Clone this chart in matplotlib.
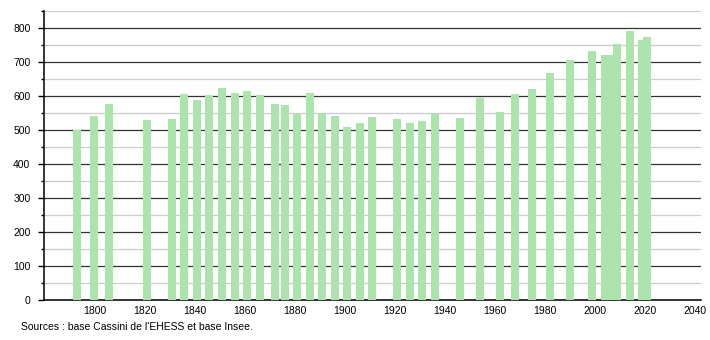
import numpy as np
import matplotlib.pyplot as plt
from matplotlib.ticker import MultipleLocator

# census years and population
years = [1793, 1800, 1806, 1821, 1831, 1836, 1841, 1846, 1851, 1856,
         1861, 1866, 1872, 1876, 1881, 1886, 1891, 1896, 1901, 1906,
         1911, 1921, 1926, 1931, 1936, 1946, 1954, 1962, 1968, 1975,
         1982, 1990, 1999, 2004, 2006, 2009, 2014, 2019, 2021]
population = [501, 542, 577, 530, 533, 606, 589, 604, 625, 609,
              616, 604, 577, 574, 548, 610, 550, 542, 510, 520,
              539, 533, 520, 527, 548, 536, 594, 554, 606, 621,
              668, 707, 733, 722, 722, 754, 792, 765, 774]
source = "Sources : base Cassini de l'EHESS et base Insee."

plt.rcParams['font.family'] = ['Liberation Sans', 'DejaVu Sans']

fig = plt.figure(figsize=(7.1, 3.4), dpi=100)
ax = fig.add_axes([0.0624, 0.1168, 0.9246, 0.8500])

ax.bar(years, population, width=3.2, color='#ade4ad', zorder=3)

ax.set_xlim(1780, 2042.3)
ax.set_ylim(0, 850)
ax.xaxis.set_major_locator(MultipleLocator(20))
ax.yaxis.set_major_locator(MultipleLocator(100))
ax.yaxis.set_minor_locator(MultipleLocator(50))
ax.set_xticks(range(1800, 2041, 20))

ax.grid(axis='y', which='major', color='#333333', linewidth=0.9, zorder=1)
ax.grid(axis='y', which='minor', color='#cccccc', linewidth=0.9, zorder=1)
ax.set_axisbelow(True)

for s in ['top', 'right']:
    ax.spines[s].set_visible(False)
ax.spines['left'].set_linewidth(1.1)
ax.spines['bottom'].set_linewidth(1.1)

ax.tick_params(axis='y', which='major', length=4, width=1, pad=6, labelsize=7.5)
ax.tick_params(axis='y', which='minor', length=2, width=1)
ax.tick_params(axis='x', length=0, pad=4, labelsize=7.5)

fig.text(0.029, 0.038, source, fontsize=7.5, va='center', ha='left')

fig.savefig('out.png', dpi=100)
